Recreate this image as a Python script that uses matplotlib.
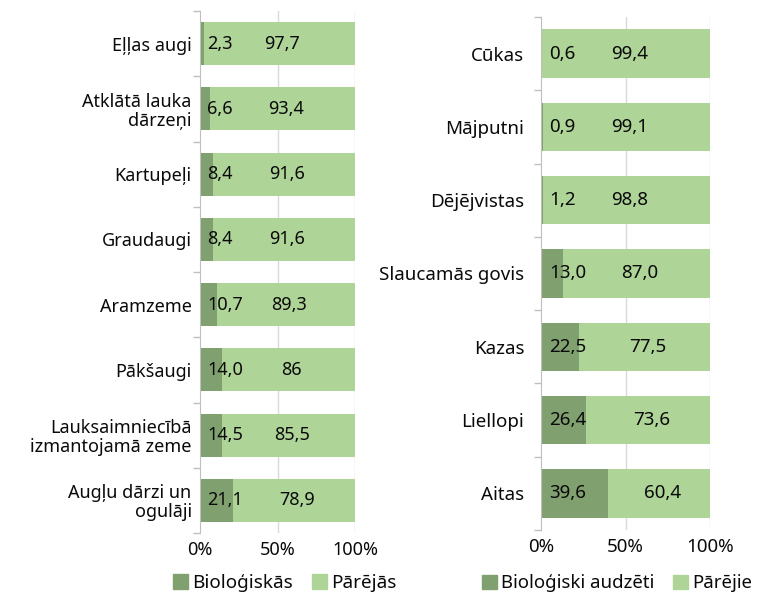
import matplotlib
matplotlib.use("Agg")
import matplotlib.pyplot as plt
from matplotlib.patches import Patch
import numpy as np

plt.rcParams['font.family'] = ['Noto Sans', 'DejaVu Sans']

left_cats = ["Eļļas augi", "Atklātā lauka\ndārzeņi", "Kartupeļi", "Graudaugi", "Aramzeme",
             "Pākšaugi", "Lauksaimniecībā\nizmantojamā zeme", "Augļu dārzi un\nogulāji"]
left_bio = [2.3, 6.6, 8.4, 8.4, 10.7, 14.0, 14.5, 21.1]
left_other = [97.7, 93.4, 91.6, 91.6, 89.3, 86.0, 85.5, 78.9]
left_bio_lbl = ["2,3", "6,6", "8,4", "8,4", "10,7", "14,0", "14,5", "21,1"]
left_other_lbl = ["97,7", "93,4", "91,6", "91,6", "89,3", "86", "85,5", "78,9"]

right_cats = ["Cūkas", "Mājputni", "Dējējvistas", "Slaucamās govis", "Kazas", "Liellopi", "Aitas"]
right_bio = [0.6, 0.9, 1.2, 13.0, 22.5, 26.4, 39.6]
right_other = [99.4, 99.1, 98.8, 87.0, 77.5, 73.6, 60.4]
right_bio_lbl = ["0,6", "0,9", "1,2", "13,0", "22,5", "26,4", "39,6"]
right_other_lbl = ["99,4", "99,1", "98,8", "87,0", "77,5", "73,6", "60,4"]

x_ticks = [0, 50, 100]
x_tick_labels = ["0%", "50%", "100%"]

DARK = "#80A070"
LIGHT = "#AED498"
AXIS = "#BFBFBF"
GRID = "#D9D9D9"
TXT = "#0A0A0A"

W, H = 763, 596
fig = plt.figure(figsize=(W / 100, H / 100), dpi=100)

def panel(rect, cats, bio, other, bio_lbl, other_lbl, leg_labels, leg_x, fs, lfs, ypad, colsp):
    ax = fig.add_axes(rect)
    n = len(cats)
    y = np.arange(n)
    ax.barh(y, bio, height=0.66, color=DARK, zorder=3)
    ax.barh(y, other, left=bio, height=0.66, color=LIGHT, zorder=3)
    for i in range(n):
        ax.text(4.8, y[i], bio_lbl[i], ha="left", va="center", fontsize=fs, color=TXT, zorder=4)
        ax.text(bio[i] + other[i] / 2 + 2, y[i], other_lbl[i], ha="center", va="center",
                fontsize=fs, color=TXT, zorder=4)
    ax.set_ylim(n - 0.5, -0.5)
    ax.set_xlim(0, 100)
    ax.set_yticks(y)
    ax.set_yticklabels(cats, fontsize=fs, linespacing=1.05, color=TXT)
    ax.set_yticks(np.arange(n + 1) - 0.5, minor=True)
    ax.tick_params(axis="y", which="major", length=0, pad=ypad)
    ax.tick_params(axis="y", which="minor", length=5, color=AXIS, width=1)
    ax.set_xticks(x_ticks)
    ax.set_xticklabels(x_tick_labels, fontsize=fs, color=TXT)
    ax.tick_params(axis="x", length=0, pad=6)
    for s in ["top", "right", "bottom"]:
        ax.spines[s].set_visible(False)
    ax.spines["left"].set_color(AXIS)
    ax.spines["left"].set_zorder(5)
    for xv in [50, 100]:
        ax.axvline(xv, color=GRID, lw=1, zorder=1)
    handles = [Patch(color=DARK), Patch(color=LIGHT)]
    fig.legend(handles, leg_labels, loc="center left", bbox_to_anchor=(leg_x, 13 / H),
               ncol=2, frameon=False, fontsize=lfs, handlelength=0.78, handleheight=0.78,
               handletextpad=0.25, columnspacing=colsp, borderaxespad=0, borderpad=0,
               labelcolor=TXT)
    return ax

panel([200 / W, 63 / H, 155 / W, 522 / H], left_cats, left_bio, left_other,
      left_bio_lbl, left_other_lbl, ["Bioloģiskās", "Pārējās"], 173 / W, 13, 13.6, 6, 1.0)
panel([541 / W, 66 / H, 169 / W, 513 / H], right_cats, right_bio, right_other,
      right_bio_lbl, right_other_lbl, ["Bioloģiski audzēti", "Pārējie"], 482 / W, 13.5, 13.4, 12, 1.0)

fig.savefig("out.png", dpi=100)
